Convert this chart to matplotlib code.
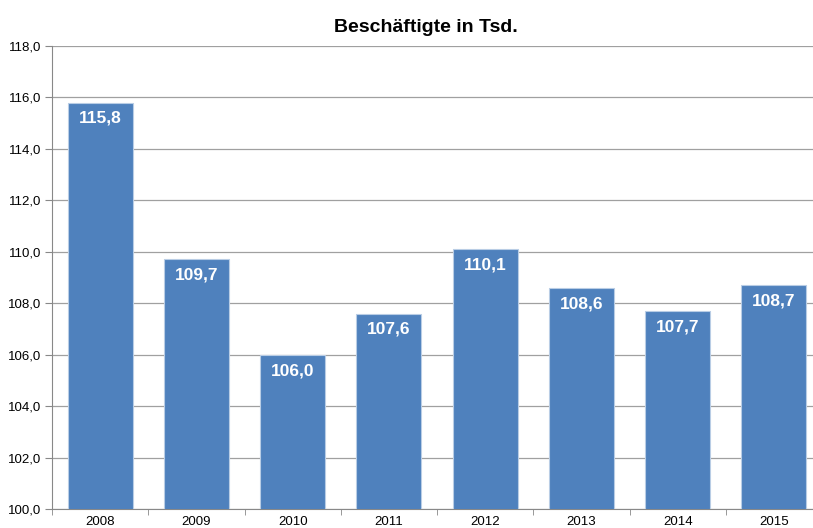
import numpy as np
import matplotlib.pyplot as plt

plt.rcParams['font.family'] = ['Liberation Sans', 'DejaVu Sans']

# --- data ---
years = ['2008', '2009', '2010', '2011', '2012', '2013', '2014', '2015']
values = [115.8, 109.7, 106.0, 107.6, 110.1, 108.6, 107.7, 108.7]

fig = plt.figure(figsize=(8.13, 5.28), dpi=100)
ax = fig.add_axes([52 / 813, 19 / 528, 770 / 813, 463 / 528])

x = np.arange(len(years))
bars = ax.bar(x, values, width=0.675, bottom=0, color='#4F81BD',
              edgecolor='#B9CDE5', linewidth=0.8, zorder=3)

for xi, v in zip(x, values):
    ax.annotate(f'{v:.1f}'.replace('.', ','), (xi, v), xytext=(0, -6),
                textcoords='offset points', ha='center', va='top',
                color='white', fontsize=12.5, fontweight='bold', zorder=4)

ax.set_ylim(100, 118)
ax.set_xlim(-0.5, len(years) - 0.5)
yt = np.arange(100, 119, 2)
ax.set_yticks(yt)
ax.set_yticklabels([f'{t:.1f}'.replace('.', ',') for t in yt], fontsize=9.5)
ax.set_xticks(x)
ax.set_xticklabels(years, fontsize=9.5)
ax.set_xticks(np.arange(-0.5, len(years), 1), minor=True)
ax.tick_params(axis='x', which='major', length=0, pad=5)
ax.tick_params(axis='x', which='minor', length=4, color='#888888')
ax.tick_params(axis='y', length=5, color='#888888', pad=3)

ax.grid(axis='y', color='#A0A0A0', linewidth=0.9, zorder=0)
for s in ['top', 'right']:
    ax.spines[s].set_visible(False)
ax.spines['left'].set_color('#888888')
ax.spines['bottom'].set_color('#888888')

fig.text(426 / 813, 1 - 27 / 528, 'Beschäftigte in Tsd.', fontsize=14,
         fontweight='bold', ha='center', va='center')

plt.savefig('out.png', dpi=100)
